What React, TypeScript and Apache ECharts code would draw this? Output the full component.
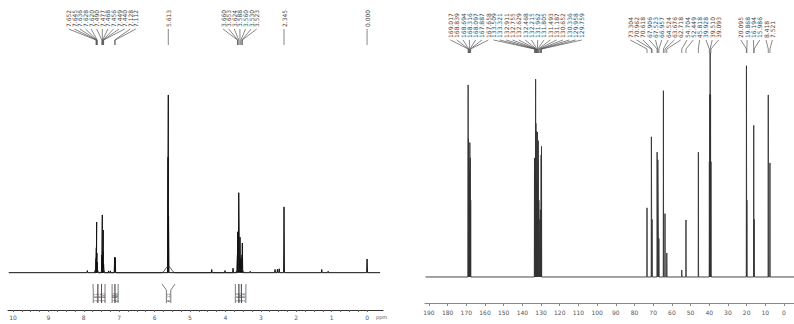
import React, { useEffect, useRef } from "react";
import * as echarts from "echarts";

// ---------- 1H spectrum (left) ----------
const H_TICK_LABELS = [10, 9, 8, 7, 6, 5, 4, 3, 2, 1, 0];
const H_PEAKS: [number, number][] = [
  [7.9, 1.2],
  [7.652, 8], [7.645, 14], [7.636, 28.5], [7.628, 11], [7.62, 6],
  [7.49, 10], [7.477, 32.5], [7.468, 8], [7.456, 12], [7.449, 24], [7.44, 5],
  [7.3, 1], [7.25, 1],
  [7.128, 8.8], [7.112, 8.5],
  [5.62, 65], [5.613, 100], [5.606, 32],
  [4.387, 1.8], [4.011, 1.2], [3.785, 2.5],
  [3.66, 10], [3.653, 23], [3.624, 45], [3.588, 20], [3.56, 8], [3.53, 10], [3.523, 16.7],
  [3.3, 0.8],
  [2.599, 1.8], [2.53, 2.0], [2.48, 2.2],
  [2.345, 37],
  [1.28, 1.8], [1.1, 0.8],
  [0.0, 7.7],
];
const H_FEET: [number, number, number][] = [
  [7.64, 2.5, 0.07], [7.46, 2.5, 0.07], [7.12, 1, 0.04],
  [5.613, 3.5, 0.2], [3.6, 2, 0.15],
];
const H_LABEL_GROUPS: number[][] = [
  [7.652, 7.645, 7.636, 7.628, 7.62, 7.49, 7.477, 7.468, 7.456, 7.449, 7.44, 7.128, 7.112],
  [5.613],
  [3.66, 3.653, 3.624, 3.588, 3.56, 3.53, 3.523],
  [2.345],
  [0.0],
];
const H_INTEGRALS: [number, number, string][] = [
  [7.74, 7.6, "2.01"], [7.6, 7.5, "1.02"], [7.5, 7.4, "2.00"],
  [7.2, 7.12, "1.00"], [7.12, 7.03, "0.98"],
  [5.79, 5.42, "6.12"],
  [3.72, 3.62, "2.03"], [3.62, 3.55, "2.00"], [3.55, 3.42, "2.04"],
];

// ---------- 13C spectrum (right) ----------
const C_TICK_LABELS = [190, 180, 170, 160, 150, 140, 130, 120, 110, 100, 90, 80, 70, 60, 50, 40, 30, 20, 10, 0];
const C_PEAKS: [number, number][] = [
  [169.017, 100], [168.839, 72], [168.694, 60], [168.316, 55], [168.097, 70], [167.887, 62], [167.658, 40],
  [133.509, 62], [133.321, 55], [132.911, 103], [132.755, 80], [132.629, 76], [132.468, 50], [132.215, 45],
  [131.962, 75.5], [131.805, 60], [131.493, 71], [131.187, 40], [130.652, 30], [130.336, 35], [129.958, 63.5], [129.759, 68],
  [73.304, 36], [70.962, 73], [70.618, 30], [67.906, 65], [67.523, 61], [66.957, 20],
  [64.524, 97], [63.676, 33], [62.718, 12.5], [54.704, 3.6], [52.449, 29.7], [45.818, 65],
  [39.928, 60], [39.719, 95], [39.51, 116.7], [39.301, 95], [39.093, 60],
  [20.095, 110], [19.868, 40], [16.194, 79], [15.986, 30], [8.418, 94.8], [7.521, 59.4],
];
const C_LABEL_GROUPS: number[][] = [
  [169.017, 168.839, 168.694, 168.316, 168.097, 167.887, 167.658],
  [133.509, 133.321, 132.911, 132.755, 132.629, 132.468, 132.215, 131.962, 131.805, 131.493, 131.187, 130.652, 130.336, 129.958, 129.759],
  [73.304, 70.962, 70.618, 67.906, 67.523, 66.957, 64.524, 63.676, 62.718, 54.704, 52.449, 45.818, 39.928, 39.51, 39.093],
  [20.095, 19.868, 16.194, 15.986, 8.418, 7.521],
];

function spikes(peaks: [number, number][], w: number, lo: number, hi: number) {
  const sorted = [...peaks].sort((a, b) => a[0] - b[0]);
  const pts: number[][] = [[lo, 0]];
  for (const [p, h] of sorted) pts.push([p - w, 0], [p, h], [p + w, 0]);
  pts.push([hi, 0]);
  return pts;
}
function feet(list: [number, number, number][]) {
  const sorted = [...list].sort((a, b) => a[0] - b[0]);
  const pts: number[][] = [];
  for (const [p, h, hw] of sorted) pts.push([p - hw, 0], [p, h], [p + hw, 0]);
  return pts;
}

const FONT = "DejaVu Sans";

export default function App() {
  const ref = useRef<HTMLDivElement>(null);
  useEffect(() => {
    if (!ref.current) return;
    const chart = echarts.init(ref.current, undefined, { renderer: "svg" });
    const hMin = -0.45, hMax = 10.14, cMin = -5.35, cMax = 192.1;
    const hTicks: number[] = [];
    for (let v = 0; v <= 10; v += 0.25) hTicks.push(v);
    chart.setOption({
      animation: false,
      backgroundColor: "#fff",
      grid: [
        { left: 8, top: 40, width: 375, bottom: 14 },
        { left: 425, top: 40, right: 0, bottom: 21 },
      ],
      xAxis: [
        {
          type: "value", gridIndex: 0, inverse: true, min: hMin, max: hMax,
          axisLine: { show: true, onZero: false, lineStyle: { color: "#333", width: 1 } },
          axisTick: { show: true, customValues: hTicks, length: 2, lineStyle: { color: "#666", width: 1 } },
          axisLabel: { customValues: H_TICK_LABELS, fontSize: 6, color: "#555", margin: 4, fontFamily: FONT },
          splitLine: { show: false },
        },
        {
          type: "value", gridIndex: 1, inverse: true, min: cMin, max: cMax,
          axisLine: { show: true, onZero: false, lineStyle: { color: "#888", width: 1 } },
          axisTick: { show: true, customValues: C_TICK_LABELS, length: 3, lineStyle: { color: "#888", width: 1 } },
          axisLabel: { customValues: C_TICK_LABELS, fontSize: 6, color: "#555", margin: 6, fontFamily: FONT },
          splitLine: { show: false },
        },
      ],
      yAxis: [
        { type: "value", gridIndex: 0, min: -21, max: 130.9, show: false },
        { type: "value", gridIndex: 1, min: -13.54, max: 123.4, show: false },
      ],
      series: [
        {
          type: "line", xAxisIndex: 0, yAxisIndex: 0, symbol: "none", silent: true,
          data: spikes(H_PEAKS, 0.012, hMin + 0.08, hMax - 0.02),
          lineStyle: { color: "#111", width: 1 },
        },
        {
          type: "line", xAxisIndex: 0, yAxisIndex: 0, symbol: "none", silent: true, smooth: 0.4,
          data: feet(H_FEET),
          lineStyle: { color: "#222", width: 0.8 },
        },
        {
          type: "line", xAxisIndex: 1, yAxisIndex: 1, symbol: "none", silent: true,
          data: spikes(C_PEAKS, 0.1, cMin, cMax - 0.3),
          lineStyle: { color: "#333", width: 0.9 },
        },
      ],
    });

    const px = (gi: number, v: number) => chart.convertToPixel({ gridIndex: gi }, [v, 0])[0];
    const graphics: any[] = [];

    const addLabels = (gi: number, groups: number[][], spacing: number, labelBottom: number, convY: number, stemEnd: number) => {
      for (const g of groups) {
        const pxs = g.map((v) => px(gi, v));
        const order = g.map((v, i) => i).sort((a, b) => pxs[a] - pxs[b]);
        const center = pxs.reduce((s, x) => s + x, 0) / pxs.length;
        order.forEach((idx, k) => {
          const sx = center + (k - (g.length - 1) / 2) * spacing;
          const tx = pxs[idx];
          graphics.push({
            type: "text", x: sx, y: labelBottom, rotation: Math.PI / 2, silent: true,
            style: { text: g[idx].toFixed(3), fontSize: 6, fill: "#444", align: "left", verticalAlign: "middle", fontFamily: FONT },
          });
          graphics.push({
            type: "polyline", silent: true,
            shape: { points: [[sx, labelBottom + 2], [tx, convY], [tx, stemEnd]] },
            style: { stroke: "#555", lineWidth: 0.7, fill: null },
          });
        });
      }
    };
    addLabels(0, H_LABEL_GROUPS, 5.6, 27, 40, 45);
    addLabels(1, C_LABEL_GROUPS, 6.3, 38, 49, 53);

    for (const [a, b, val] of H_INTEGRALS) {
      const x1 = px(0, a), x2 = px(0, b);
      const cx = (x1 + x2) / 2;
      const hw = Math.min(2.2, Math.abs(x2 - x1) / 2);
      graphics.push({
        type: "polyline", silent: true,
        shape: { points: [[x1, 284], [cx - hw, 290], [cx - hw, 303]] },
        style: { stroke: "#444", lineWidth: 0.7, fill: null },
      });
      graphics.push({
        type: "polyline", silent: true,
        shape: { points: [[x2, 284], [cx + hw, 290], [cx + hw, 303]] },
        style: { stroke: "#444", lineWidth: 0.7, fill: null },
      });
      graphics.push({
        type: "text", x: cx, y: 302, rotation: Math.PI / 2, silent: true,
        style: { text: val, fontSize: 4, fill: "#333", align: "left", verticalAlign: "middle", fontFamily: FONT },
      });
    }
    graphics.push({
      type: "text", x: 376, y: 317, silent: true,
      style: { text: "ppm", fontSize: 5, fill: "#555", align: "left", verticalAlign: "middle", fontFamily: FONT },
    });
    chart.setOption({ graphic: graphics });
    return () => chart.dispose();
  }, []);
  return (
    <div
      ref={ref}
      style={{ position: "fixed", left: 0, top: 0, width: 794, height: 324, background: "#fff" }}
    />
  );
}
